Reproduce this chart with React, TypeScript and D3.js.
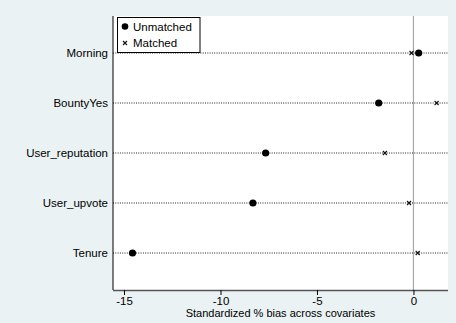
import { useEffect, useRef } from "react";
import * as d3 from "d3";

const covariates = ["Morning", "BountyYes", "User_reputation", "User_upvote", "Tenure"];
const unmatched = [0.27, -1.8, -7.66, -8.32, -14.56];
const matched = [-0.1, 1.2, -1.48, -0.23, 0.22];
const xTicks = [-15, -10, -5, 0];

export default function App() {
  const svgRef = useRef<SVGSVGElement>(null);

  useEffect(() => {
    if (!svgRef.current) return;
    const W = 456;
    const H = 323;
    const plot = { left: 113, right: 448, top: 16, bottom: 290 };
    const font = "'Liberation Sans', Arial, sans-serif";

    const svg = d3.select(svgRef.current);
    svg.selectAll("*").remove();

    // background (graph region) + plot region
    svg.append("rect").attr("width", W).attr("height", H).attr("fill", "#eaf2f3");
    svg.append("rect")
      .attr("x", plot.left)
      .attr("y", plot.top)
      .attr("width", plot.right - plot.left)
      .attr("height", plot.bottom - plot.top)
      .attr("fill", "#ffffff");

    const x = d3.scaleLinear().domain([-15.57, 1.79]).range([plot.left, plot.right]);
    const y = d3.scalePoint<string>().domain(covariates).range([53, 253]);

    // zero reference line
    svg.append("line")
      .attr("x1", x(0)).attr("x2", x(0))
      .attr("y1", plot.top).attr("y2", plot.bottom)
      .attr("stroke", "#a8a8a8").attr("stroke-width", 1.2);

    // dotted row lines
    covariates.forEach((c) => {
      svg.append("line")
        .attr("x1", plot.left).attr("x2", plot.right)
        .attr("y1", y(c)!).attr("y2", y(c)!)
        .attr("stroke", "#222").attr("stroke-width", 1)
        .attr("stroke-dasharray", "1 1.3");
    });

    // matched: small crosses
    const cross = (g: d3.Selection<SVGGElement, unknown, null, undefined>, cx: number, cy: number) => {
      const s = 2;
      g.append("path")
        .attr("d", `M${cx - s},${cy - s}L${cx + s},${cy + s}M${cx - s},${cy + s}L${cx + s},${cy - s}`)
        .attr("stroke", "#111").attr("stroke-width", 1.1).attr("fill", "none");
    };
    const marks = svg.append("g");
    covariates.forEach((c, i) => cross(marks, x(matched[i]), y(c)!));

    // unmatched: filled dots
    marks.selectAll("circle")
      .data(covariates)
      .join("circle")
      .attr("cx", (_, i) => x(unmatched[i]))
      .attr("cy", (d) => y(d)!)
      .attr("r", 3.6)
      .attr("fill", "#000");

    // left axis line + labels
    svg.append("line")
      .attr("x1", plot.left).attr("x2", plot.left)
      .attr("y1", plot.top).attr("y2", plot.bottom)
      .attr("stroke", "#000").attr("stroke-width", 1);
    svg.append("g")
      .selectAll("text")
      .data(covariates)
      .join("text")
      .attr("x", plot.left - 5)
      .attr("y", (d) => y(d)! + 4)
      .attr("text-anchor", "end")
      .attr("font-family", font)
      .attr("font-size", 11.5)
      .attr("fill", "#000")
      .text((d) => d);

    // bottom axis
    const xAxis = d3.axisBottom(x).tickValues(xTicks).tickSize(5).tickFormat((d) => `${d}`);
    svg.append("g")
      .attr("transform", `translate(0,${plot.bottom})`)
      .call(xAxis)
      .call((ax) => ax.select(".domain").attr("d", `M${plot.left},0.5H${plot.right}`).attr("stroke", "#555").attr("stroke-width", 1.5))
      .call((ax) => ax.selectAll(".tick line").attr("stroke", "#000"))
      .call((ax) => ax.selectAll("text").attr("font-family", font).attr("font-size", 11.5).attr("fill", "#000").attr("dy", "0.6em"));

    svg.append("text")
      .attr("x", (plot.left + plot.right) / 2)
      .attr("y", 317)
      .attr("text-anchor", "middle")
      .attr("font-family", font)
      .attr("font-size", 11)
      .attr("fill", "#000")
      .text("Standardized % bias across covariates");

    // legend
    const lg = svg.append("g");
    lg.append("rect")
      .attr("x", 117.5).attr("y", 17.5)
      .attr("width", 82.5).attr("height", 35)
      .attr("fill", "#fff").attr("stroke", "#000").attr("stroke-width", 1);
    lg.append("circle").attr("cx", 125).attr("cy", 26.5).attr("r", 3.3).attr("fill", "#000");
    cross(lg, 125, 43);
    lg.append("text").attr("x", 133).attr("y", 30.5)
      .attr("font-family", font).attr("font-size", 11.5).attr("fill", "#000").text("Unmatched");
    lg.append("text").attr("x", 133).attr("y", 47)
      .attr("font-family", font).attr("font-size", 11.5).attr("fill", "#000").text("Matched");
  }, []);

  return (
    <svg
      ref={svgRef}
      width={456}
      height={323}
      style={{ position: "absolute", left: 0, top: 0, display: "block" }}
    />
  );
}
